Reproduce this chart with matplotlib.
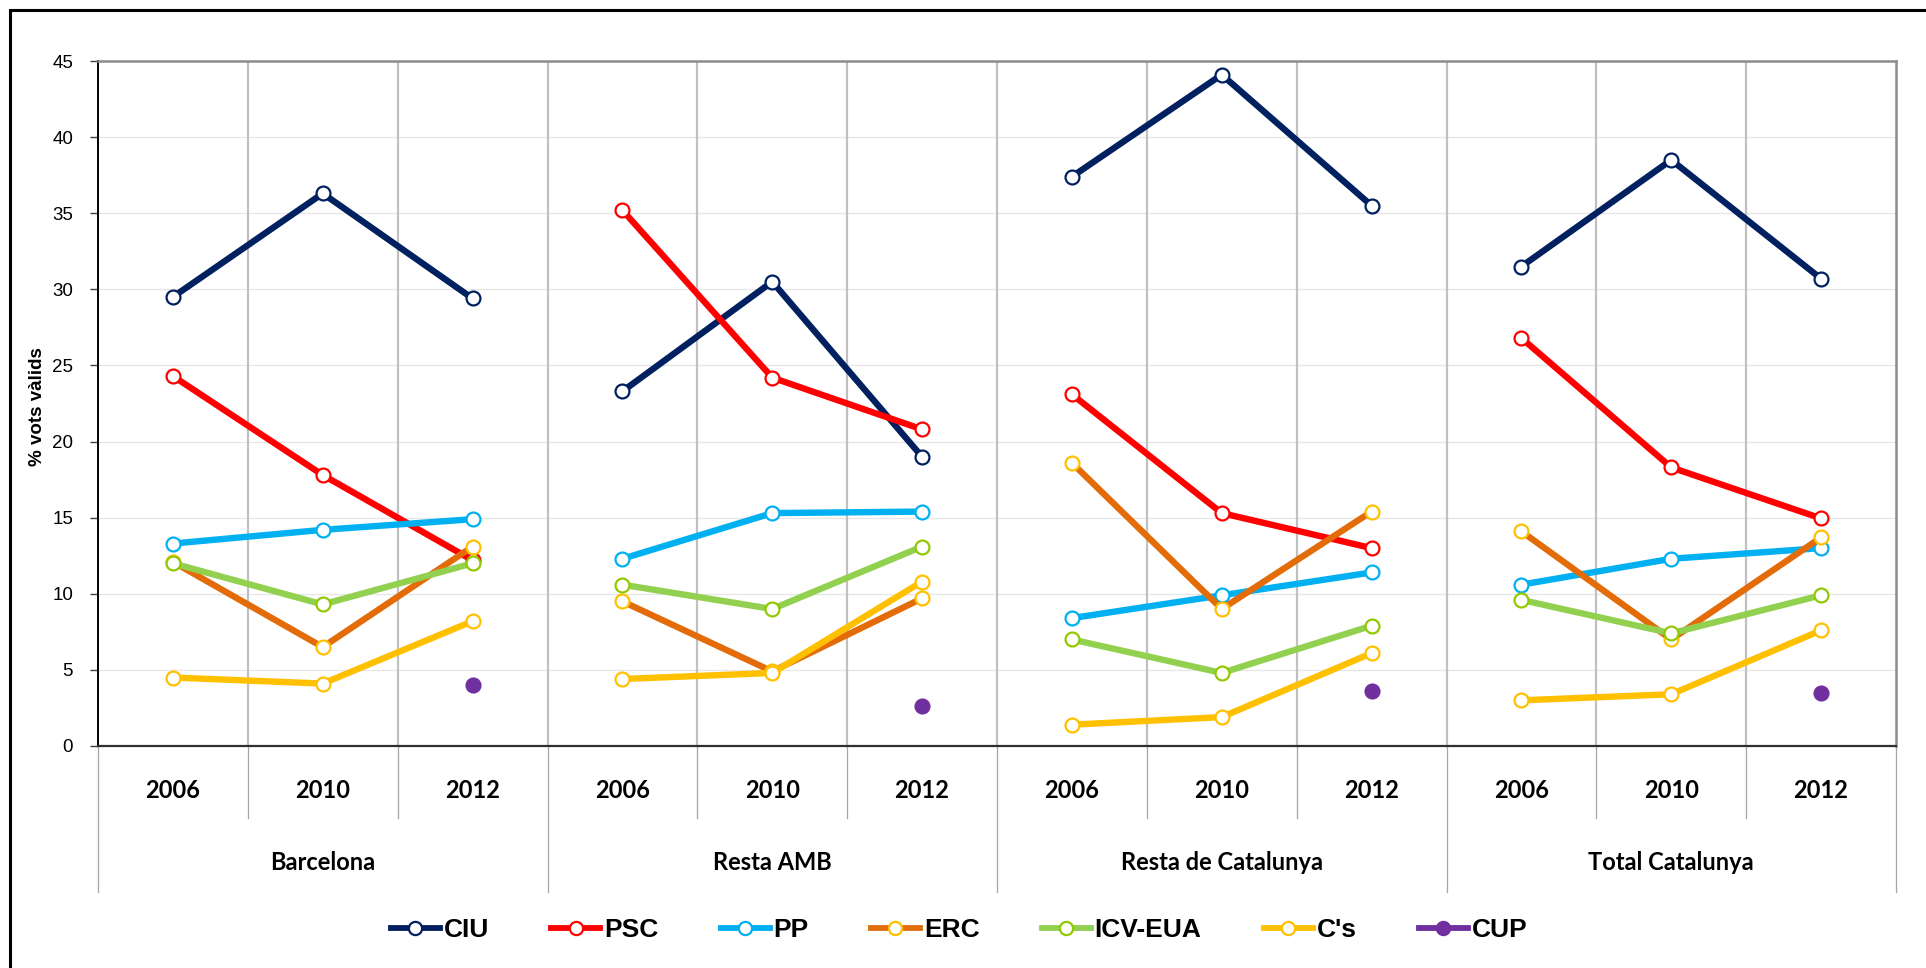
import numpy as np
import matplotlib
matplotlib.use("Agg")
import matplotlib.pyplot as plt
from matplotlib.lines import Line2D
from matplotlib.patches import Rectangle
import matplotlib.transforms as mtransforms

# ---- data ----
regions = ["Barcelona", "Resta AMB", "Resta de Catalunya", "Total Catalunya"]
years = ["2006", "2010", "2012"]
parties = ["CIU", "PSC", "PP", "ERC", "ICV-EUA", "C's", "CUP"]

ciu = [29.5, 36.3, 29.4, 23.3, 30.5, 19.0, 37.4, 44.1, 35.5, 31.5, 38.5, 30.7]
psc = [24.3, 17.8, 12.2, 35.2, 24.2, 20.8, 23.1, 15.3, 13.0, 26.8, 18.3, 14.95]
pp = [13.3, 14.2, 14.9, 12.3, 15.3, 15.4, 8.4, 9.9, 11.4, 10.6, 12.3, 13.0]
erc = [12.1, 6.5, 13.1, 9.5, 4.9, 9.7, 18.6, 9.0, 15.4, 14.1, 7.0, 13.7]
icv = [12.0, 9.3, 12.0, 10.6, 9.0, 13.1, 7.0, 4.8, 7.9, 9.6, 7.4, 9.9]
cs = [4.5, 4.1, 8.2, 4.4, 4.8, 10.8, 1.4, 1.9, 6.1, 3.0, 3.4, 7.6]
cup = [None, None, 4.0, None, None, 2.6, None, None, 3.6, None, None, 3.5]

series = [ciu, psc, pp, erc, icv, cs, cup]
line_colors = ["#002060", "#FF0000", "#00B0F0", "#E36C09", "#92D050", "#FFC000", "#7030A0"]
edge_colors = ["#002060", "#FF0000", "#00B0F0", "#FFC000", "#92C800", "#FFC000", "#7030A0"]
face_colors = ["white", "white", "white", "white", "white", "white", "#7030A0"]

W, H = 1926, 968
fig = plt.figure(figsize=(W / 100, H / 100), dpi=100)
fig.patch.set_facecolor("white")

left_px, right_px, top_px, bot_px = 98, 1896, 61, 746
ax = fig.add_axes([left_px / W, 1 - bot_px / H, (right_px - left_px) / W, (bot_px - top_px) / H])

n_cat = len(regions) * len(years)
x = np.arange(n_cat)

lw = 4.6
ms = 10
for vals, lc, ec, fc, name in zip(series, line_colors, edge_colors, face_colors, parties):
    v = np.array([np.nan if a is None else a for a in vals], dtype=float)
    for g in range(len(regions)):
        xs = x[g * 3:(g + 1) * 3]
        ys = v[g * 3:(g + 1) * 3]
        ax.plot(xs, ys, color=lc, lw=lw, marker="o", ms=ms, mfc=fc,
                mec=ec, mew=1.6, solid_capstyle="butt", zorder=3, clip_on=False)

ax.set_xlim(-0.5, n_cat - 0.5)
ax.set_ylim(0, 45)
ax.set_yticks(np.arange(0, 46, 5))
ax.set_yticklabels([str(t) for t in range(0, 46, 5)], fontsize=13.5,
                   fontfamily="Liberation Sans")
ax.tick_params(axis="y", length=6, width=1, color="#404040", pad=12)
ax.set_xticks([])

# gridlines
for yv in range(5, 45, 5):
    ax.axhline(yv, color="#E6E6E6", lw=0.9, zorder=1)
for b in np.arange(0.5, n_cat - 0.5, 1):
    ax.axvline(b, color="#C0C0C0", lw=1.6, zorder=1)

for s in ["top", "right"]:
    ax.spines[s].set_color("#8C8C8C")
    ax.spines[s].set_linewidth(1.8)
ax.spines["left"].set_color("black")
ax.spines["left"].set_linewidth(1.4)
ax.spines["bottom"].set_color("#303030")
ax.spines["bottom"].set_linewidth(1.6)

# two-level category axis
trans = mtransforms.blended_transform_factory(ax.transData, ax.transAxes)
ah = bot_px - top_px
y_year = -44 / ah
y_reg = -117 / ah
y_short = -72 / ah
y_long = -146 / ah
for i in range(n_cat):
    ax.text(x[i], y_year, years[i % 3], transform=trans, ha="center", va="center",
            fontsize=17, fontweight="bold", fontfamily="Lato")
for g, reg in enumerate(regions):
    ax.text(g * 3 + 1, y_reg, reg, transform=trans, ha="center", va="center",
            fontsize=17, fontweight="bold", fontfamily="Lato")
for b in np.arange(-0.5, n_cat, 1):
    is_group = abs(((b + 0.5) % 3)) < 1e-9
    ax.plot([b, b], [0, y_long if is_group else y_short], transform=trans,
            color="#A6A6A6", lw=0.9, clip_on=False, zorder=1)

ax.text(37 / W, 1 - 407 / H, "% vots vàlids", transform=fig.transFigure, rotation=90,
        ha="center", va="center", fontsize=13.5, fontweight="bold",
        fontfamily="Liberation Sans")

# legend
handles = []
for lc, ec, fc in zip(line_colors, edge_colors, face_colors):
    handles.append(Line2D([0], [0], color=lc, lw=4.2, marker="o", ms=9.5, mfc=fc,
                          mec=ec, mew=1.6))
fig.legend(handles, parties, loc="center", bbox_to_anchor=(0.498, 1 - 930 / H),
           ncol=7, frameon=False, handlelength=1.86, handletextpad=0.15,
           columnspacing=2.35,
           prop={"family": "Liberation Sans", "weight": "bold", "size": 19})

# outer frame
fig.patches.append(Rectangle((10 / W, -0.5), 2, 0.5 + 1 - 10 / H, transform=fig.transFigure,
                             fill=False, ec="black", lw=2.2, zorder=0))

fig.savefig("out.png", dpi=100, facecolor="white")
